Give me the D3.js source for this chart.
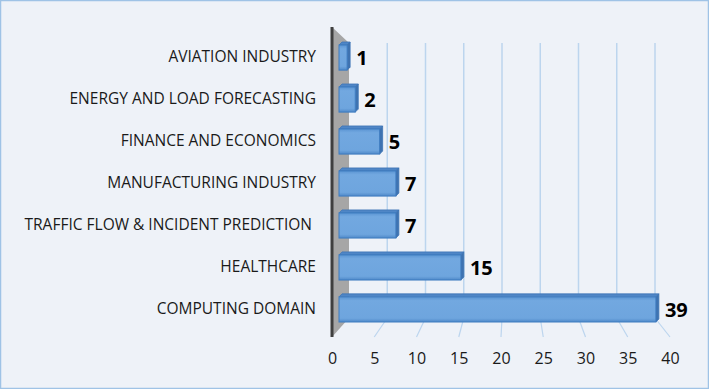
<!DOCTYPE html>
<html>
<head>
<meta charset="utf-8">
<script src="https://cdn.jsdelivr.net/npm/d3@7"></script>
<style>
  html, body { margin: 0; padding: 0; background: #ffffff; }
  svg { display: block; }
</style>
</head>
<body>
<div id="chart"></div>
<script>
// data

const categories = [
  "AVIATION INDUSTRY",
  "ENERGY AND LOAD FORECASTING",
  "FINANCE AND ECONOMICS",
  "MANUFACTURING INDUSTRY",
  "TRAFFIC FLOW & INCIDENT PREDICTION ",
  "HEALTHCARE",
  "COMPUTING DOMAIN"
];
const counts = [1, 2, 5, 7, 7, 15, 39];
const xTicks = [0, 5, 10, 15, 20, 25, 30, 35, 40];

// config

const width = 709;
const height = 389;
const floorFront = 337;   // front edge of the floor
const floorBack = 318;    // back edge of the floor
const wallTop = 43;

const svg = d3.select("#chart")
  .append("svg")
  .attr("width", width)
  .attr("height", height)
  .attr("viewBox", [0, 0, width, height]);

// background + border
svg.append("rect")
  .attr("x", 0.5).attr("y", 0.5)
  .attr("width", width - 1).attr("height", height - 1)
  .attr("fill", "#eef2f8")
  .attr("stroke", "#9fc3e6")
  .attr("stroke-width", 1.5);

// scales (front edge, back wall, bar depth)

const xFront = d3.scaleLinear().domain([0, 40]).range([332, 670]);
const xBack = d3.scaleLinear().domain([0, 40]).range([349, 655]);
const xBar = d3.scaleLinear().domain([0, 40]).range([339, 664]);

const yScale = d3.scaleBand()
  .domain(categories)
  .range([42, 322])
  .paddingInner(0.33)
  .paddingOuter(0);

// back wall gridlines
svg.selectAll("line.grid")
  .data(xTicks.slice(1))
  .join("line")
  .attr("class", "grid")
  .attr("x1", d => xBack(d)).attr("x2", d => xBack(d))
  .attr("y1", wallTop).attr("y2", floorBack)
  .attr("stroke", "#bcd5ee")
  .attr("stroke-width", 1.5);

// floor lines
svg.selectAll("line.floor")
  .data(xTicks.slice(1))
  .join("line")
  .attr("class", "floor")
  .attr("x1", d => xBack(d)).attr("x2", d => xFront(d))
  .attr("y1", floorBack).attr("y2", floorFront)
  .attr("stroke", "#bcd5ee")
  .attr("stroke-width", 1.2);

// side wall
svg.append("path")
  .attr("d", d3.line()([
    [xFront(0), 27], [xBack(0), wallTop], [xBack(0), floorBack], [xFront(0), floorFront]
  ]))
  .attr("fill", "#a6a6a6");

svg.append("line")
  .attr("x1", xFront(0)).attr("x2", xFront(0))
  .attr("y1", 27).attr("y2", floorFront)
  .attr("stroke", "#3f3f3f")
  .attr("stroke-width", 3);

// bars

const defs = svg.append("defs");
const grad = defs.append("linearGradient")
  .attr("id", "barFront")
  .attr("x1", 0).attr("y1", 0).attr("x2", 0).attr("y2", 1);
grad.append("stop").attr("offset", "0%").attr("stop-color", "#5b95d3");
grad.append("stop").attr("offset", "15%").attr("stop-color", "#72a8e0");
grad.append("stop").attr("offset", "85%").attr("stop-color", "#6ea5de");
grad.append("stop").attr("offset", "100%").attr("stop-color", "#4f89c9");

const depth = 3;
const rows = categories.map((c, i) => ({ cat: c, value: counts[i] }));

const bar = svg.selectAll("g.bar")
  .data(rows)
  .join("g")
  .attr("class", "bar");

// top face
bar.append("path")
  .attr("d", d => {
    const x0 = xBar(0), x1 = xBar(d.value), y = yScale(d.cat);
    return d3.line()([[x0, y + depth], [x0 + depth, y], [x1 + depth, y], [x1, y + depth]]) + "Z";
  })
  .attr("fill", "#4f86c6")
  .attr("stroke", "#3e75b6")
  .attr("stroke-width", 0.8);

// side face
bar.append("path")
  .attr("d", d => {
    const x1 = xBar(d.value), y = yScale(d.cat), b = y + yScale.bandwidth();
    return d3.line()([[x1, y + depth], [x1 + depth, y], [x1 + depth, b - depth], [x1, b]]) + "Z";
  })
  .attr("fill", "#3f73b0")
  .attr("stroke", "#3e75b6")
  .attr("stroke-width", 0.8);

// front face
bar.append("rect")
  .attr("x", xBar(0))
  .attr("y", d => yScale(d.cat) + depth)
  .attr("width", d => xBar(d.value) - xBar(0))
  .attr("height", yScale.bandwidth() - depth)
  .attr("fill", "url(#barFront)")
  .attr("stroke", "#3e7cc0")
  .attr("stroke-width", 1);

// value labels
bar.append("text")
  .attr("x", d => xBar(d.value) + depth + 6)
  .attr("y", d => yScale(d.cat) + yScale.bandwidth() / 2 + 9)
  .attr("font-family", "'Open Sans', sans-serif")
  .attr("font-weight", "bold")
  .attr("font-size", 20)
  .attr("fill", "#000")
  .text(d => d.value);

// category labels
svg.selectAll("text.cat")
  .data(categories)
  .join("text")
  .attr("class", "cat")
  .attr("x", 316)
  .attr("y", d => yScale(d) + yScale.bandwidth() / 2 + 6)
  .attr("text-anchor", "end")
  .attr("font-family", "'Open Sans', sans-serif")
  .attr("font-size", 15.5)
  .attr("fill", "#1a1a1a")
  .style("white-space", "pre")
  .text(d => d);

// x axis labels
const xAxis = d3.axisBottom(xFront)
  .tickValues(xTicks)
  .tickSize(0)
  .tickPadding(0);

svg.append("g")
  .attr("transform", "translate(0, 353)")
  .call(xAxis)
  .call(g => g.select(".domain").remove())
  .call(g => g.selectAll(".tick text")
    .attr("font-family", "'Open Sans', sans-serif")
    .attr("font-size", 16)
    .attr("fill", "#1a1a1a"));
</script>
</body>
</html>
